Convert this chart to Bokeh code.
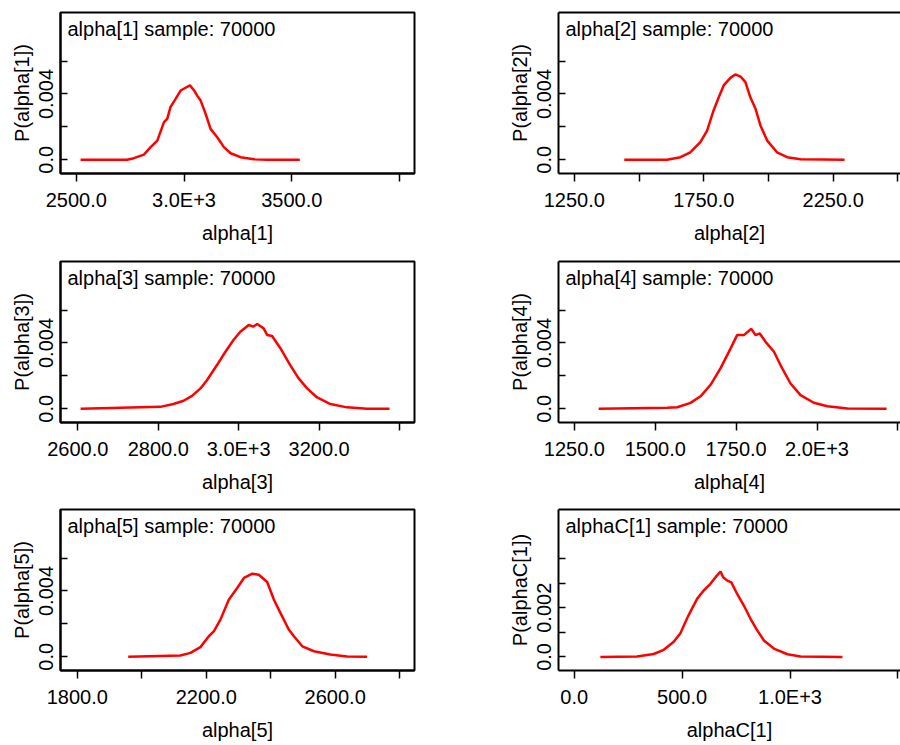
from bokeh.plotting import figure
from bokeh.layouts import column, row
from bokeh.models import Range1d, FixedTicker, LinearAxis, Label
from bokeh.embed import file_html
from bokeh.resources import INLINE

FONT = "Liberation Sans"
SAMPLE = 70000

# ---------------- data ----------------
names = ["alpha[1]", "alpha[2]", "alpha[3]", "alpha[4]", "alpha[5]", "alphaC[1]"]

a1_x = [2520, 2736, 2767, 2814, 2845, 2876, 2907, 2922, 2937, 2961, 2984, 3007, 3027,
        3047, 3061, 3077, 3100, 3123, 3154, 3185, 3216, 3262, 3324, 3386, 3537]
a1_p = [0, 0, 0.0001, 0.00032, 0.00077, 0.00117, 0.00229, 0.00249, 0.0032, 0.0037, 0.00421,
        0.00438, 0.00452, 0.00421, 0.0039, 0.0036, 0.0028, 0.00188, 0.00137, 0.00077, 0.0004,
        0.00016, 0.00004, 0, 0]

a2_x = [1443, 1608, 1660, 1698, 1737, 1763, 1788, 1808, 1827, 1853, 1872, 1892, 1911, 1930,
        1950, 1969, 1995, 2033, 2072, 2124, 2294]
a2_p = [0, 0, 0.00016, 0.00046, 0.00107, 0.00178, 0.003, 0.0038, 0.00452, 0.00498, 0.00519,
        0.00506, 0.00472, 0.0038, 0.0031, 0.00209, 0.00117, 0.00046, 0.00016, 0.00003, 0]

a3_x = [2607, 2805, 2838, 2863, 2884, 2905, 2921, 2946, 2967, 2987, 3004, 3025, 3036, 3046,
        3062, 3071, 3083, 3104, 3128, 3149, 3170, 3195, 3228, 3269, 3319, 3375]
a3_p = [0, 0.00012, 0.00029, 0.00049, 0.00079, 0.00124, 0.00174, 0.00266, 0.00347, 0.00418,
        0.00468, 0.00509, 0.00499, 0.00515, 0.00489, 0.00448, 0.00442, 0.00367, 0.00266,
        0.00185, 0.00124, 0.00069, 0.00029, 0.00009, 0, 0]

a4_x = [1325, 1537, 1568, 1609, 1640, 1671, 1702, 1733, 1753, 1774, 1797, 1810, 1823, 1841,
        1867, 1887, 1918, 1949, 1990, 2032, 2094, 2215]
a4_p = [0, 0.00006, 0.0001, 0.00036, 0.00076, 0.00146, 0.00247, 0.00367, 0.00448, 0.00448,
        0.00486, 0.00448, 0.00458, 0.00407, 0.00347, 0.00266, 0.00154, 0.00083, 0.00037,
        0.00016, 0.00002, 0]

a5_x = [1958, 2120, 2151, 2182, 2208, 2224, 2244, 2270, 2296, 2317, 2343, 2363, 2389, 2410,
        2430, 2456, 2472, 2498, 2534, 2585, 2637, 2699]
a5_p = [0, 0.00008, 0.00024, 0.00059, 0.00125, 0.00156, 0.00226, 0.00347, 0.00418, 0.00479,
        0.00505, 0.00499, 0.00455, 0.00347, 0.00267, 0.00166, 0.00125, 0.00064, 0.00034,
        0.00014, 0.00002, 0]

c1_x = [121, 291, 368, 415, 461, 492, 523, 542, 570, 600, 631, 655, 678, 690, 709, 728, 755,
        786, 817, 848, 879, 925, 988, 1049, 1243]
c1_p = [0, 0.00002, 0.00012, 0.00029, 0.00062, 0.00096, 0.00157, 0.0019, 0.00237, 0.0027,
        0.00297, 0.00324, 0.00347, 0.00324, 0.0031, 0.00303, 0.00256, 0.00209, 0.00155,
        0.00108, 0.00067, 0.00034, 0.00011, 0.00002, 0]

# axis ticks and tick labels (" " = tick without a label)
a1_xticks = [2500, 3000, 3500, 4000]
a1_xlabels = ["2500.0", "3.0E+3", "3500.0", " "]
a2_xticks = [1250, 1500, 1750, 2000, 2250, 2500]
a2_xlabels = ["1250.0", " ", "1750.0", " ", "2250.0", " "]
a3_xticks = [2600, 2800, 3000, 3200, 3400]
a3_xlabels = ["2600.0", "2800.0", "3.0E+3", "3200.0", " "]
a4_xticks = [1250, 1500, 1750, 2000, 2250]
a4_xlabels = ["1250.0", "1500.0", "1750.0", "2.0E+3", " "]
a5_xticks = [1800, 2000, 2200, 2400, 2600, 2800]
a5_xlabels = ["1800.0", " ", "2200.0", " ", "2600.0", " "]
c1_xticks = [0, 500, 1000, 1500]
c1_xlabels = ["0.0", "500.0", "1.0E+3", " "]

a_yticks = [0, 0.002, 0.004, 0.006]
a_ylabels = ["0.0", " ", "0.004", " "]
c1_yticks = [0, 0.001, 0.002, 0.003, 0.004]
c1_ylabels = ["0.0", " ", "0.002", " ", " "]

# axis ranges
a1_xlim = (2427, 4069)
a2_xlim = (1189, 2510)
a3_xlim = (2557, 3437)
a4_xlim = (1201, 2258)
a5_xlim = (1748, 2846)
c1_xlim = (-73, 1512)
a_ylim = (-0.00083, 0.00895)
c1_ylim = (-0.00055, 0.00599)

FRAME_H = 161
TOP = 12


def style_axis(ax):
    ax.axis_line_color = "black"
    ax.axis_line_width = 2
    ax.major_tick_line_color = "black"
    ax.major_tick_line_width = 1.5
    ax.minor_tick_in = 0
    ax.minor_tick_out = 0
    ax.major_label_text_font = FONT
    ax.major_label_text_font_size = "20px"
    ax.major_label_text_color = "black"
    ax.axis_label_text_font = FONT
    ax.axis_label_text_font_size = "20px"
    ax.axis_label_text_font_style = "normal"
    ax.axis_label_text_color = "black"


def make_panel(name, xs, ps, xlim, ylim, xticks, xlabels, yticks, ylabels, left_col, height):
    bottom = height - TOP - FRAME_H
    if left_col:
        w, mbr = 498, 84
    else:
        w, mbr = 402, 0
    p = figure(width=w, height=height, x_range=Range1d(*xlim), y_range=Range1d(*ylim),
               output_backend="svg", toolbar_location=None,
               min_border_left=60, min_border_right=mbr, min_border_top=TOP,
               min_border_bottom=bottom, x_axis_label=name, y_axis_label="P(%s)" % name)
    p.grid.visible = False
    p.background_fill_color = "white"
    p.border_fill_color = "white"
    p.line(xs, ps, line_color="red", line_width=2.5)

    xa = p.xaxis[0]
    style_axis(xa)
    xa.ticker = FixedTicker(ticks=xticks, minor_ticks=[])
    xa.major_label_overrides = {float(t): l for t, l in zip(xticks, xlabels)}
    xa.major_tick_out = 8
    xa.major_tick_in = 0
    xa.major_label_standoff = 7
    xa.axis_label_standoff = 8

    ya = p.yaxis[0]
    style_axis(ya)
    ya.ticker = FixedTicker(ticks=yticks, minor_ticks=[])
    ya.major_label_overrides = {float(t): l for t, l in zip(yticks, ylabels)}
    ya.major_tick_out = 0
    ya.major_tick_in = 7
    ya.major_label_orientation = "vertical"
    ya.major_label_standoff = 3
    ya.axis_label_standoff = 0
    ya.axis_label_text_line_height = 1.0

    if left_col:
        p.outline_line_color = "black"
        p.outline_line_width = 2
        p.outline_line_alpha = 1
    else:
        p.outline_line_color = None
        top = LinearAxis(ticker=FixedTicker(ticks=[]), major_label_text_font_size="0px",
                         major_tick_out=0, major_tick_in=0, minor_tick_out=0, minor_tick_in=0,
                         axis_line_width=2, axis_line_color="black")
        p.add_layout(top, "above")

    p.add_layout(Label(x=7, y=FRAME_H - 16, x_units="screen", y_units="screen",
                       text="%s sample: %d" % (name, SAMPLE), text_font=FONT,
                       text_font_size="20px", text_baseline="middle", text_color="black"))
    return p


p1 = make_panel(names[0], a1_x, a1_p, a1_xlim, a_ylim, a1_xticks, a1_xlabels, a_yticks, a_ylabels, True, 249)
p2 = make_panel(names[1], a2_x, a2_p, a2_xlim, a_ylim, a2_xticks, a2_xlabels, a_yticks, a_ylabels, False, 249)
p3 = make_panel(names[2], a3_x, a3_p, a3_xlim, a_ylim, a3_xticks, a3_xlabels, a_yticks, a_ylabels, True, 248)
p4 = make_panel(names[3], a4_x, a4_p, a4_xlim, a_ylim, a4_xticks, a4_xlabels, a_yticks, a_ylabels, False, 248)
p5 = make_panel(names[4], a5_x, a5_p, a5_xlim, a_ylim, a5_xticks, a5_xlabels, a_yticks, a_ylabels, True, 248)
p6 = make_panel(names[5], c1_x, c1_p, c1_xlim, c1_ylim, c1_xticks, c1_xlabels, c1_yticks, c1_ylabels, False, 248)

layout = column(row(p1, p2), row(p3, p4), row(p5, p6))

with open("out.html", "w") as f:
    f.write(file_html(layout, INLINE))
